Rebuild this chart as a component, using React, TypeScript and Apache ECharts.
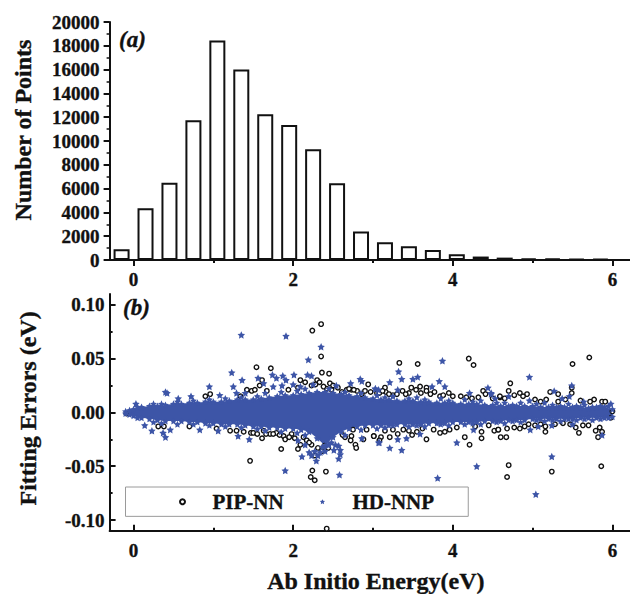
import React, { useEffect, useRef } from "react";
import * as echarts from "echarts";

const FONT = '"Liberation Serif", "Times New Roman", serif';
const INK = "#111111";
const BLUE = "#3d55a7";
const STAR = "path://M50 0 L65 32 L100 37 L75 61 L81 96 L50 79 L19 96 L25 61 L0 37 L35 32 Z";

const binCenters = [-0.15, 0.15, 0.45, 0.75, 1.05, 1.35, 1.65, 1.95, 2.25, 2.55, 2.85, 3.15, 3.45, 3.75, 4.05, 4.35, 4.65, 4.95, 5.25, 5.55, 5.85];
const binCounts = [900, 4350, 6500, 11750, 18450, 16000, 12250, 11350, 9300, 6450, 2400, 1500, 1150, 850, 480, 290, 200, 130, 110, 100, 100];

const xMajor = [0, 2, 4, 6];
const xMinor = [1, 3, 5];
const errMajor = [-0.1, -0.05, 0, 0.05, 0.1];
const errMinor = [-0.075, -0.025, 0.025, 0.075];

const bandX = [-0.1, -0.05, 0, 0.05, 0.1, 0.2, 0.3, 0.4, 0.5, 0.6, 0.7, 0.8, 0.9, 1.0, 1.1, 1.2, 1.3, 1.4, 1.5, 1.6, 1.7, 1.8, 1.9, 2.0, 2.1, 2.2, 2.3, 2.4, 2.5, 2.6, 2.7, 2.8, 2.9, 3.0, 3.1, 3.2, 3.3, 3.4, 3.5, 3.6, 3.7, 3.8, 3.9, 4.0, 4.1, 4.2, 4.3, 4.4, 4.5, 4.6, 4.7, 4.8, 4.9, 5.0, 5.1, 5.2, 5.3, 5.4, 5.5, 5.6, 5.7, 5.8, 5.9, 6.0];
const bandUpper = [0.001, 0.002, 0.003, 0.005, 0.005, 0.006, 0.006, 0.007, 0.008, 0.008, 0.009, 0.009, 0.01, 0.01, 0.01, 0.011, 0.012, 0.012, 0.012, 0.013, 0.014, 0.015, 0.016, 0.016, 0.017, 0.018, 0.019, 0.019, 0.018, 0.017, 0.016, 0.015, 0.014, 0.013, 0.012, 0.012, 0.011, 0.011, 0.011, 0.01, 0.01, 0.009, 0.009, 0.009, 0.008, 0.008, 0.008, 0.007, 0.007, 0.006, 0.006, 0.006, 0.006, 0.006, 0.005, 0.005, 0.005, 0.005, 0.005, 0.005, 0.004, 0.005, 0.005, 0.003];
const bandLower = [-0.001, -0.002, -0.003, -0.005, -0.005, -0.006, -0.007, -0.008, -0.008, -0.008, -0.009, -0.009, -0.01, -0.01, -0.011, -0.011, -0.011, -0.012, -0.013, -0.013, -0.014, -0.014, -0.015, -0.015, -0.016, -0.018, -0.024, -0.031, -0.023, -0.018, -0.015, -0.013, -0.012, -0.012, -0.012, -0.012, -0.011, -0.011, -0.011, -0.011, -0.01, -0.01, -0.01, -0.009, -0.009, -0.009, -0.009, -0.008, -0.008, -0.008, -0.007, -0.007, -0.007, -0.006, -0.006, -0.006, -0.006, -0.006, -0.006, -0.005, -0.005, -0.005, -0.005, -0.004];

const pipNnPoints = [
  [-0.09, -0.001], [0.31, -0.013], [0.38, -0.013], [0.7, -0.013], [0.9, 0.015], [0.96, 0.017], [1.04, -0.015], [1.21, -0.017], [1.29, -0.017], [1.34, 0.015], [1.38, -0.018], [1.42, 0.021], [1.46, -0.045], [1.47, -0.019], [1.48, 0.02],
  [2.35, 0.082], [2.24, 0.076], [2.35, 0.052], [1.54, 0.042], [1.72, 0.041], [2.36, 0.037], [2.45, 0.036], [2.09, 0.03], [2.15, 0.028], [2.3, 0.03], [1.61, 0.03], [2.94, 0.026], [2.46, 0.027], [2.23, 0.025], [2.42, 0.022], [2.48, 0.021], [2.67, 0.021], [2.73, 0.021], [2.8, 0.02], [2.86, 0.017], [3.05, 0.018], [2.61, 0.019], [1.67, 0.02], [1.52, 0.021], [1.94, 0.021],
  [2.38, 0.024], [2.5, 0.025], [2.56, 0.023], [2.7, 0.022], [2.76, 0.021], [2.9, 0.02], [2.97, 0.019], [2.28, 0.026], [2.33, 0.028], [2.06, 0.023], [1.58, 0.025],
  [1.5, -0.019], [1.63, -0.017], [1.61, -0.024], [1.71, -0.02], [1.79, -0.019], [1.88, -0.022], [1.9, -0.025], [1.98, -0.02], [1.85, -0.034], [2.06, -0.034], [2.09, -0.03], [2.13, -0.023], [2.23, -0.03], [2.27, -0.04], [2.39, -0.031], [2.24, -0.054], [2.41, -0.055], [2.22, -0.06], [2.27, -0.063], [2.65, -0.023], [2.73, -0.022], [2.72, -0.026], [2.78, -0.03], [2.79, -0.033], [2.88, -0.025], [3.01, -0.022], [2.92, -0.016], [2.75, -0.016], [2.42, -0.108],
  [1.55, -0.02], [1.66, -0.02], [1.75, -0.02], [1.83, -0.021], [1.95, -0.023], [2.02, -0.024], [2.17, -0.026], [2.2, -0.028], [2.31, -0.033], [2.36, -0.036], [2.44, -0.033], [2.62, -0.021],
  [3.33, 0.046], [3.56, 0.045], [4.2, 0.05], [4.26, 0.044], [3.15, 0.023], [3.48, 0.023], [3.54, 0.021], [3.59, 0.024], [3.67, 0.023], [3.67, 0.02], [3.77, 0.019], [3.95, 0.018], [4.38, 0.02], [4.41, 0.017], [3.08, 0.018], [3.16, 0.019], [3.37, 0.02], [3.45, 0.018], [3.6, 0.018], [4.1, 0.015], [4.24, 0.013], [3.25, 0.016], [3.84, 0.015], [4.59, 0.014],
  [3.12, 0.02], [3.2, 0.017], [3.3, 0.017], [3.41, 0.017], [3.72, 0.017], [3.88, 0.016], [4.0, 0.015], [4.17, 0.014], [4.32, 0.014], [4.5, 0.013],
  [3.01, -0.022], [3.1, -0.023], [3.08, -0.026], [3.31, -0.02], [3.49, -0.021], [3.67, -0.025], [3.84, -0.019], [4.15, -0.023], [4.21, -0.03], [4.36, -0.018], [4.36, -0.024], [4.52, -0.017], [4.57, -0.016], [3.21, -0.023], [3.38, -0.016], [3.55, -0.018], [3.96, -0.016], [4.45, -0.012],
  [3.15, -0.017], [3.25, -0.016], [3.45, -0.017], [3.62, -0.015], [3.76, -0.016], [3.9, -0.018], [4.05, -0.014], [4.28, -0.013],
  [5.71, 0.051], [5.5, 0.045], [4.72, 0.027], [4.7, 0.02], [4.59, 0.015], [4.84, 0.018], [4.93, 0.017], [4.77, 0.016], [5.22, 0.019], [5.32, 0.017], [5.49, 0.023], [5.49, 0.018], [5.77, 0.012], [5.87, 0.01], [5.91, 0.01], [5.17, 0.012], [5.32, 0.01], [4.88, 0.015],
  [4.65, 0.013], [5.03, 0.012], [5.1, 0.01], [5.41, 0.012], [5.6, 0.011], [5.72, 0.01],
  [4.7, -0.049], [4.68, -0.06], [5.24, -0.055], [5.86, -0.05], [4.6, -0.023], [4.67, -0.023], [4.57, -0.016], [4.68, -0.015], [4.77, -0.014], [4.84, -0.015], [4.9, -0.013], [5.16, -0.013], [5.16, -0.018], [5.54, -0.014], [5.58, -0.019], [5.7, -0.012], [5.79, -0.017], [5.84, -0.014], [5.82, -0.023], [5.87, -0.018], [6.0, 0.001], [5.98, -0.005],
  [4.95, -0.011], [5.03, -0.012], [5.1, -0.011], [5.28, -0.011], [5.38, -0.01], [5.47, -0.011], [5.63, -0.012],
];

const hdNnpPoints = [
  [1.35, 0.072], [1.23, 0.037], [1.36, 0.03], [0.95, 0.024], [1.25, 0.024], [0.4, 0.019], [0.42, 0.018], [0.72, 0.015], [0.03, 0.008], [0.23, -0.017], [0.37, -0.019], [0.4, -0.023], [0.14, -0.012], [0.46, -0.016], [0.83, -0.016], [1.06, -0.017], [1.31, -0.022], [1.45, -0.025], [0.56, 0.013], [1.29, 0.018], [1.08, 0.016], [1.4, 0.018],
  [1.91, 0.071], [2.35, 0.061], [2.19, 0.049], [1.56, 0.032], [1.74, 0.035], [1.79, 0.032], [1.87, 0.034], [1.91, 0.03], [2.01, 0.035], [2.18, 0.035], [2.23, 0.034], [1.63, 0.027], [1.75, 0.024], [1.86, 0.025], [2.0, 0.026], [2.09, 0.024], [2.25, 0.026], [2.54, 0.025], [2.72, 0.027], [2.84, 0.031], [2.86, 0.029], [3.03, 0.022],
  [1.9, -0.054], [2.58, -0.058], [2.29, -0.045], [2.11, -0.041], [2.23, -0.04], [2.2, -0.037], [2.34, -0.037], [2.4, -0.036], [2.51, -0.035], [2.57, -0.043], [2.59, -0.039], [2.57, -0.031], [2.59, -0.035], [2.48, -0.028], [2.86, -0.024], [3.07, -0.028],
  [2.27, -0.036], [2.31, -0.04], [2.37, -0.032], [2.44, -0.03], [2.53, -0.03], [2.15, -0.03], [2.06, -0.026],
  [3.87, 0.048], [3.32, 0.038], [3.36, 0.031], [3.5, 0.031], [3.56, 0.033], [3.21, 0.028], [3.83, 0.029], [3.9, 0.024], [3.74, 0.024], [3.03, 0.022], [3.07, 0.021], [3.31, 0.021], [4.44, 0.023], [4.21, 0.018], [4.48, 0.017],
  [4.3, -0.05], [3.81, -0.061], [3.21, -0.033], [3.36, -0.035], [3.08, -0.028], [3.31, -0.025], [3.42, -0.024], [4.05, -0.028], [3.59, -0.02], [4.26, -0.016],
  [4.96, 0.033], [5.24, -0.041], [5.04, -0.076], [5.49, 0.025], [5.87, -0.021], [4.97, -0.016], [5.27, 0.02], [5.46, 0.015], [5.64, 0.01], [5.98, 0.008], [4.48, 0.018], [4.53, 0.013], [4.7, 0.015], [4.96, 0.011], [5.37, 0.013], [5.07, -0.013], [5.24, -0.012], [5.5, -0.011],
];

const edgeStarX = [0.25, 0.35, 0.55, 0.75, 0.95, 1.15, 1.35, 1.55, 1.65, 1.85, 2.05, 2.15, 2.45, 2.65, 2.85, 3.05, 3.15, 3.25, 3.45, 3.55, 3.65, 3.85, 3.95, 4.15, 4.25, 4.35, 4.55, 4.65, 4.75, 4.85, 5.05, 5.15, 5.25, 5.35, 5.45, 5.55, 5.65, 5.75, 5.85, 5.95];
const edgeStarUpper = [0.008, 0.008, 0.01, 0.011, 0.012, 0.013, 0.014, 0.015, 0.018, 0.019, 0.02, 0.022, 0.022, 0.019, 0.018, 0.016, 0.014, 0.015, 0.013, 0.014, 0.012, 0.013, 0.011, 0.012, 0.01, 0.011, 0.009, 0.009, 0.007, 0.009, 0.008, 0.009, 0.007, 0.006, 0.008, 0.006, 0.007, 0.005, 0.006, 0.006];
const edgeStarLower = [-0.009, -0.01, -0.011, -0.011, -0.012, -0.013, -0.014, -0.015, -0.017, -0.018, -0.019, -0.021, -0.03, -0.021, -0.016, -0.015, -0.014, -0.012, -0.013, -0.012, -0.013, -0.011, -0.012, -0.011, -0.01, -0.011, -0.009, -0.01, -0.008, -0.009, -0.007, -0.008, -0.007, -0.008, -0.006, -0.007, -0.006, -0.007, -0.006, -0.005];

const thick = { textBorderColor: INK, textBorderWidth: 0.35 };
const axisFont = { fontFamily: FONT, fontWeight: "bold" as const, fontSize: 19, color: INK, ...thick };
const titleFont = { fontFamily: FONT, fontWeight: "bold" as const, fontSize: 24, color: INK, ...thick };
const solid = { show: true, onZero: false, lineStyle: { color: INK, width: 2 } };

function xAxisMajor(gridIndex: number, inside: boolean, withName: boolean) {
  return {
    type: "value", gridIndex, position: "bottom", min: -0.3, max: 6.22,
    splitLine: { show: false }, axisLine: solid,
    axisTick: { show: true, inside, length: 6, customValues: xMajor, lineStyle: { color: INK, width: 2 } },
    axisLabel: { show: true, margin: 10, customValues: xMajor, ...axisFont },
    ...(withName ? { name: "Ab Initio Energy(eV)", nameLocation: "middle", nameGap: 38, nameTextStyle: { ...titleFont, padding: [0, 0, 0, 12] } } : {}),
  };
}
function xAxisMinor(gridIndex: number, inside: boolean) {
  return {
    type: "value", gridIndex, position: "bottom", min: -0.3, max: 6.22,
    splitLine: { show: false }, axisLine: { show: false, onZero: false },
    axisTick: { show: true, inside, length: 3, customValues: xMinor, lineStyle: { color: INK, width: 2 } },
    axisLabel: { show: false },
  };
}

export default function App() {
  const ref = useRef<HTMLDivElement>(null);
  useEffect(() => {
    const chart = echarts.init(ref.current!, null, { renderer: "svg" });
    chart.setOption({
      animation: false,
      backgroundColor: "#ffffff",
      grid: [
        { left: 109.6, top: 22, width: 520.4, height: 238 },
        { left: 109.6, top: 294, width: 520.4, height: 238 },
      ],
      xAxis: [xAxisMajor(0, false, false), xAxisMinor(0, false), xAxisMajor(1, true, true), xAxisMinor(1, true)],
      yAxis: [
        {
          type: "value", gridIndex: 0, position: "left", min: 0, max: 20000, interval: 2000,
          splitLine: { show: false }, axisLine: solid,
          axisTick: { show: true, length: 6, lineStyle: { color: INK, width: 2 } },
          minorTick: { show: true, splitNumber: 2, length: 3, lineStyle: { color: INK, width: 1.5 } },
          axisLabel: { margin: 10, formatter: (v: number) => String(v), ...axisFont },
          name: "Number of Points", nameLocation: "middle", nameGap: 75,
          nameTextStyle: { ...titleFont, padding: [0, 0, 0, 22] },
        },
        {
          type: "value", gridIndex: 1, position: "left", min: -0.11, max: 0.11,
          splitLine: { show: false }, axisLine: solid,
          axisTick: { show: true, inside: true, length: 6, customValues: errMajor, lineStyle: { color: INK, width: 2 } },
          axisLabel: { margin: 5, customValues: errMajor, formatter: (v: number) => v.toFixed(2), ...axisFont },
          name: "Fitting Errors (eV)", nameLocation: "middle", nameGap: 70,
          nameTextStyle: { ...titleFont, padding: [0, 0, 0, 8] },
        },
        {
          type: "value", gridIndex: 1, position: "left", min: -0.11, max: 0.11,
          splitLine: { show: false }, axisLine: { show: false, onZero: false },
          axisTick: { show: true, inside: true, length: 3, customValues: errMinor, lineStyle: { color: INK, width: 2 } },
          axisLabel: { show: false },
        },
      ],
      legend: {
        data: ["PIP-NN", "HD-NNP"],
        left: 125.5, top: 487, orient: "horizontal",
        padding: [4, 34, 4, 53.5], itemGap: 36, itemWidth: 40, itemHeight: 5,
        borderColor: "#9a9a9a", borderWidth: 1, backgroundColor: "#ffffff",
        selectedMode: false,
        textStyle: { ...titleFont, fontSize: 21, padding: [0, 0, 0, 5] },
      },
      graphic: [
        { type: "text", x: 119, y: 28, style: { text: "(a)", font: `italic bold 23px ${FONT}`, fill: INK, stroke: INK, lineWidth: 0.35 } },
        { type: "text", x: 123, y: 296, style: { text: "(b)", font: `italic bold 23px ${FONT}`, fill: INK, stroke: INK, lineWidth: 0.35 } },
      ],
      series: [
        {
          type: "bar", xAxisIndex: 0, yAxisIndex: 0, barWidth: 16,
          data: binCenters.map((x, i) => [x, binCounts[i]]),
          itemStyle: { color: "#ffffff", borderColor: INK, borderWidth: 2 },
        },
        {
          name: "PIP-NN", type: "scatter", xAxisIndex: 2, yAxisIndex: 1,
          symbol: "circle", symbolSize: 4.5,
          data: pipNnPoints,
          itemStyle: { color: "#ffffff", borderColor: "#111111", borderWidth: 1.4, opacity: 1 },
        },
        {
          name: "Band", type: "custom", xAxisIndex: 2, yAxisIndex: 1,
          data: bandX.map((x, i) => [x, bandUpper[i], bandLower[i]]),
          renderItem: (params: any, api: any) => {
            if (params.dataIndex !== 0) return null;
            const up = bandX.map((x, i) => api.coord([x, bandUpper[i]]));
            const low = bandX.map((x, i) => api.coord([x, bandLower[i]])).reverse();
            return { type: "polygon", shape: { points: [...up, ...low] }, style: { fill: BLUE } };
          },
        },
        {
          name: "HD-NNP", type: "scatter", xAxisIndex: 2, yAxisIndex: 1,
          symbol: STAR, symbolSize: 7.5,
          data: hdNnpPoints,
          itemStyle: { color: BLUE, opacity: 1 },
        },
        {
          name: "Band edge", type: "scatter", xAxisIndex: 2, yAxisIndex: 1,
          symbol: STAR, symbolSize: 7,
          data: [
            ...edgeStarX.map((x, i) => [x, edgeStarUpper[i]]),
            ...edgeStarX.map((x, i) => [x, edgeStarLower[i]]),
            ...bandX.map((x, i) => [x, bandUpper[i]]),
            ...bandX.map((x, i) => [x, bandLower[i]]),
          ],
          itemStyle: { color: BLUE, opacity: 1 },
        },
      ],
    });
    return () => chart.dispose();
  }, []);
  return <div ref={ref} style={{ position: "absolute", left: 0, top: 0, width: 630, height: 594 }} />;
}
